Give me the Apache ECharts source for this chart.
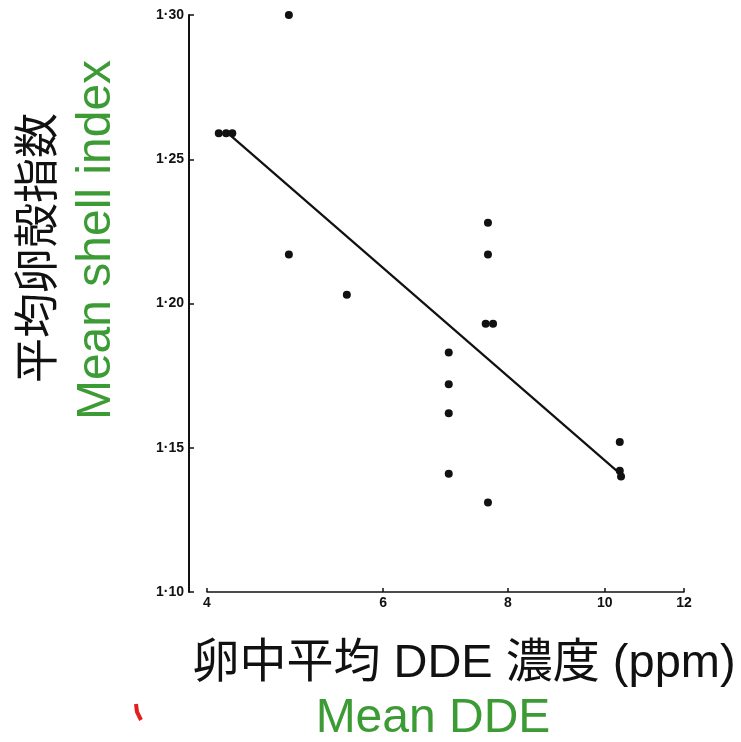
<!DOCTYPE html>
<html>
<head>
<meta charset="utf-8">
<script src="https://cdn.jsdelivr.net/npm/echarts@6/dist/echarts.min.js"></script>
<style>
html,body{margin:0;padding:0;background:#fff;}
#chart{width:741px;height:742px;}
</style>
</head>
<body>
<div id="chart"></div>
<script>
// ---- data ----
const xTicks = [4, 6, 8, 10, 12];
const yTicks = [1.10, 1.15, 1.20, 1.25, 1.30];
// mean DDE in eggs (ppm)
const ddeValues = [4.83, 4.11, 4.18, 4.24, 4.83, 5.52, 6.98, 6.98, 6.98, 6.98, 7.64, 7.64, 7.60, 7.73, 7.64, 10.35, 10.35, 10.38];
// mean shell index
const shellValues = [1.300, 1.259, 1.259, 1.259, 1.217, 1.203, 1.183, 1.172, 1.162, 1.141, 1.228, 1.217, 1.193, 1.193, 1.131, 1.152, 1.142, 1.140];
// regression line end points
const fitX = [4.23, 10.28];
const fitY = [1.258, 1.142];

const yTitleCn = '平均卵殻指数';
const yTitleEn = 'Mean shell index';
const xTitleCn = '卵中平均 DDE 濃度 (ppm)';
const xTitleEn = 'Mean DDE';

const green = '#3c9b35';
const ink = '#111';

const points = ddeValues.map((v, i) => [v, shellValues[i]]);
const fitLine = fitX.map((v, i) => [v, fitY[i]]);

const chart = echarts.init(document.getElementById('chart'), null, {renderer: 'canvas'});
chart.setOption({
  animation: false,
  backgroundColor: '#fff',
  grid: {left: 207, right: 57, top: 15, bottom: 150, containLabel: false},
  xAxis: {
    type: 'log',
    logBase: 10,
    min: 4,
    max: 12,
    axisLine: {show: true, lineStyle: {color: ink, width: 1.5}},
    axisTick: {show: true, inside: true, length: 4, lineStyle: {color: ink, width: 1.5}, customValues: xTicks},
    minorTick: {show: false},
    splitLine: {show: false},
    axisLabel: {
      customValues: xTicks,
      color: ink, fontSize: 14, fontWeight: 'bold', fontFamily: 'Liberation Sans', margin: 4,
      formatter: v => String(Math.round(v))
    }
  },
  yAxis: {
    type: 'value',
    min: 1.10,
    max: 1.30,
    interval: 0.05,
    offset: 18,
    axisLine: {show: true, lineStyle: {color: ink, width: 2}},
    axisTick: {show: true, inside: true, length: 5, lineStyle: {color: ink, width: 1.5}},
    splitLine: {show: false},
    axisLabel: {
      color: ink, fontSize: 14, fontWeight: 'bold', fontFamily: 'Liberation Sans', margin: 5,
      formatter: v => v.toFixed(2).replace('.', '·')
    }
  },
  series: [
    {
      type: 'line',
      data: fitLine,
      symbol: 'none',
      lineStyle: {color: ink, width: 2.2},
      z: 2
    },
    {
      type: 'scatter',
      data: points,
      symbol: 'circle',
      symbolSize: 8,
      itemStyle: {color: ink, opacity: 1},
      z: 3
    }
  ],
  graphic: [
    {type: 'text', x: 36, y: 248, rotation: Math.PI / 2,
     style: {text: yTitleCn, fill: ink, font: '45px "Noto Sans CJK JP"', textAlign: 'center', textVerticalAlign: 'middle'}},
    {type: 'text', x: 97, y: 240, rotation: Math.PI / 2,
     style: {text: yTitleEn, fill: green, font: '48px "Liberation Sans"', textAlign: 'center', textVerticalAlign: 'middle'}},
    {type: 'text', x: 464, y: 664,
     style: {text: xTitleCn, fill: ink, font: '47px "Liberation Sans", "Noto Sans CJK JP"', textAlign: 'center', textVerticalAlign: 'middle'}},
    {type: 'text', x: 433, y: 719,
     style: {text: xTitleEn, fill: green, font: '48px "Liberation Sans"', textAlign: 'center', textVerticalAlign: 'middle'}},
    {type: 'polyline', shape: {points: [[136, 704], [137, 712], [141, 720]]},
     style: {stroke: '#e0201a', lineWidth: 4, fill: null}}
  ]
});
</script>
</body>
</html>
